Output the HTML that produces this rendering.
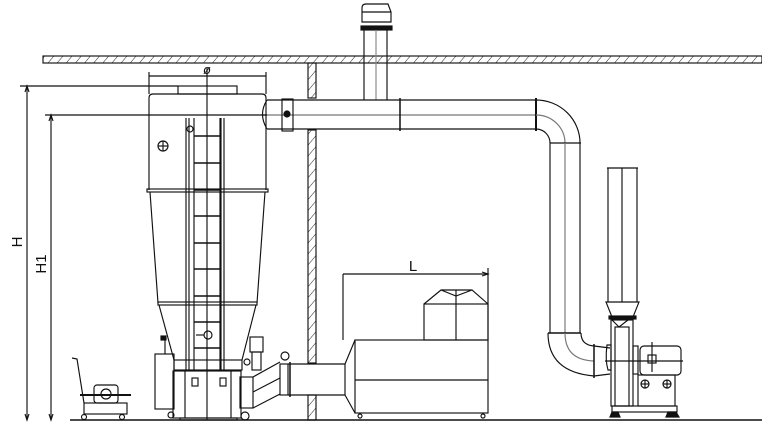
<!DOCTYPE html>
<html><head><meta charset="utf-8"><style>html,body{margin:0;padding:0;background:#fff}svg{display:block}</style></head>
<body>
<svg width="762" height="432" viewBox="0 0 762 432" xmlns="http://www.w3.org/2000/svg" font-family="Liberation Sans, sans-serif">
<defs>
<pattern id="h" width="7" height="7" patternUnits="userSpaceOnUse" patternTransform="rotate(40)"><line x1="0" y1="0" x2="0" y2="7" stroke="#222" stroke-width="1"/></pattern>
</defs>
<g fill="none" stroke="#111" stroke-width="1.15">
<rect x="43" y="56" width="719" height="7" fill="url(#h)"/>
<rect x="308" y="63" width="8" height="35" fill="url(#h)"/>
<rect x="308" y="130" width="8" height="233" fill="url(#h)"/>
<rect x="308" y="395" width="8" height="25" fill="url(#h)"/>
<line x1="70" y1="420" x2="762" y2="420" stroke-width="1.4"/>
<path d="M362 22 L362 8 Q362 4 366 4 L388 4 L391 12 L391 22 Z"/>
<line x1="362" y1="12" x2="391" y2="12"/>
<rect x="361" y="26" width="31" height="4" fill="#111"/>
<line x1="364" y1="30" x2="364" y2="100"/><line x1="387" y1="30" x2="387" y2="100"/>
<line x1="376" y1="30" x2="376" y2="100" stroke="#888"/>
<line x1="267" y1="100" x2="536" y2="100"/><line x1="267" y1="129" x2="536" y2="129"/>
<line x1="262" y1="115" x2="536" y2="115" stroke="#777"/>
<path d="M267 100 Q258 114 267 129"/>
<line x1="400" y1="98" x2="400" y2="131" stroke-width="1.5"/>
<line x1="536" y1="98" x2="536" y2="131" stroke-width="2"/>
<rect x="282" y="99" width="11" height="32"/>
<circle cx="287" cy="114" r="3" fill="#111"/>
<path d="M536 100 A44 43 0 0 1 580 143"/>
<path d="M536 115 A29 28 0 0 1 565 143" stroke="#777"/>
<path d="M536 129 A14 14 0 0 1 550 143"/>
<line x1="550" y1="143" x2="581" y2="143"/>
<line x1="550" y1="143" x2="550" y2="333"/><line x1="580" y1="143" x2="580" y2="333"/>
<line x1="565" y1="143" x2="565" y2="333" stroke="#777"/>
<line x1="548" y1="333" x2="581" y2="333" stroke-width="1.5"/>
<path d="M548 333 Q548 372 594 376"/>
<path d="M565 333 Q565 360 594 361" stroke="#777"/>
<path d="M581 333 Q581 345 594 346"/>
<line x1="594" y1="344" x2="594" y2="378" stroke-width="1.5"/>
<line x1="594" y1="346" x2="610" y2="348"/><line x1="594" y1="376" x2="610" y2="374"/>
<line x1="607" y1="168" x2="638" y2="168"/>
<line x1="608" y1="168" x2="608" y2="302"/><line x1="637" y1="168" x2="637" y2="302"/>
<line x1="622" y1="168" x2="622" y2="302"/>
<path d="M606 302 L639 302 L633 317 L612 317 Z"/>
<rect x="609" y="316" width="27" height="3" fill="#111"/>
<path d="M612 320 L619 327 L628 320"/>
<rect x="611" y="320" width="22" height="86"/>
<rect x="615" y="327" width="14" height="79"/>
<path d="M607 345 Q605 360 608 370 L611 370 L611 345 Z"/>
<rect x="633" y="346" width="5" height="28"/>
<rect x="640" y="346" width="41" height="29" rx="4"/>
<rect x="648" y="355" width="8" height="8"/>
<line x1="605" y1="361" x2="683" y2="361"/>
<line x1="652" y1="342" x2="652" y2="372"/>
<rect x="638" y="375" width="37" height="31"/>
<circle cx="645" cy="384" r="4"/><line x1="641" y1="384" x2="649" y2="384"/><line x1="645" y1="380" x2="645" y2="388"/>
<circle cx="667" cy="384" r="4"/><line x1="663" y1="384" x2="671" y2="384"/><line x1="667" y1="380" x2="667" y2="388"/>
<rect x="612" y="406" width="65" height="6"/>
<path d="M612 412 L618 412 L620 417 L610 417 Z M668 412 L676 412 L679 417 L666 417 Z" fill="#111"/>
<rect x="178" y="86" width="59" height="8"/>
<path d="M149 190 L149 98 Q149 94 153 94 L262 94 Q266 94 266 98 L266 190"/>
<rect x="147" y="189" width="121" height="3"/>
<circle cx="163" cy="146" r="5"/><line x1="158" y1="146" x2="168" y2="146"/><line x1="163" y1="141" x2="163" y2="151"/>
<line x1="150" y1="192" x2="158" y2="303"/><line x1="265" y1="192" x2="257" y2="303"/>
<rect x="158" y="302" width="99" height="3"/>
<line x1="159" y1="305" x2="174" y2="360"/><line x1="256" y1="305" x2="242" y2="360"/>
<rect x="174" y="360" width="68" height="10"/>
<rect x="173" y="371" width="68" height="47"/>
<line x1="185" y1="371" x2="185" y2="418"/><line x1="231" y1="371" x2="231" y2="418"/>
<rect x="192" y="378" width="6" height="8"/><rect x="220" y="378" width="6" height="8"/>
<rect x="180" y="418" width="57" height="2"/>
<rect x="155" y="354" width="19" height="55"/>
<circle cx="171" cy="415" r="3"/><circle cx="245" cy="416" r="4"/>
<line x1="165" y1="337" x2="165" y2="354"/>
<rect x="161" y="336" width="5" height="4" fill="#111"/>
<line x1="186" y1="118" x2="186" y2="370"/><line x1="189" y1="118" x2="189" y2="370"/>
<line x1="221" y1="118" x2="221" y2="370"/><line x1="224" y1="118" x2="224" y2="370"/>
<circle cx="190" cy="129" r="3"/>
<g stroke-width="1.6">
<line x1="194" y1="136" x2="220" y2="136"/><line x1="194" y1="163" x2="220" y2="163"/>
<line x1="194" y1="190" x2="220" y2="190"/><line x1="194" y1="216" x2="220" y2="216"/>
<line x1="194" y1="243" x2="220" y2="243"/><line x1="194" y1="269" x2="220" y2="269"/>
<line x1="194" y1="296" x2="220" y2="296"/><line x1="194" y1="322" x2="220" y2="322"/>
<line x1="194" y1="348" x2="220" y2="348"/>
</g>
<line x1="194" y1="118" x2="194" y2="370"/><line x1="220" y1="118" x2="220" y2="370"/>
<circle cx="208" cy="335" r="4"/><line x1="196" y1="335" x2="204" y2="335"/>
<line x1="207" y1="68" x2="207" y2="420"/>
<line x1="149" y1="72" x2="149" y2="94"/><line x1="266" y1="72" x2="266" y2="94"/>
<line x1="149" y1="76" x2="266" y2="76"/>
<line x1="20" y1="86" x2="178" y2="86"/>
<line x1="45" y1="115" x2="267" y2="115"/>
<line x1="27" y1="86" x2="27" y2="420"/>
<line x1="51" y1="115" x2="51" y2="420"/>
<path d="M25 92 L27 86 L29 92 M49 121 L51 115 L53 121 M25 414 L27 420 L29 414 M49 414 L51 420 L53 414"/>
<rect x="250" y="337" width="13" height="15"/>
<rect x="252" y="352" width="9" height="18"/>
<circle cx="247" cy="362" r="3"/>
<rect x="240" y="377" width="13" height="31"/>
<path d="M253 377 L280 362 M253 408 L280 394 M253 392 L280 378"/>
<rect x="280" y="364" width="8" height="31"/>
<line x1="290" y1="362" x2="290" y2="397" stroke-width="1.5"/>
<circle cx="285" cy="356" r="4"/>
<line x1="288" y1="364" x2="345" y2="364"/><line x1="288" y1="395" x2="345" y2="395"/>
<path d="M345 364 L345 395 L355 413 M345 364 L355 340"/>
<rect x="355" y="340" width="133" height="73"/>
<line x1="355" y1="380" x2="488" y2="380"/>
<rect x="424" y="304" width="64" height="36"/>
<line x1="456" y1="290" x2="456" y2="340"/>
<path d="M424 304 L441 290 L472 290 L488 304 M441 290 L456 296 L472 290"/>
<circle cx="483" cy="416" r="2"/><circle cx="360" cy="416" r="2"/>
<line x1="343" y1="274" x2="343" y2="340"/><line x1="488" y1="268" x2="488" y2="340"/>
<line x1="343" y1="274" x2="488" y2="274"/>
<path d="M482 272 L488 274 L482 276"/>
<path d="M72 358 L77 359 L84 403"/>
<rect x="84" y="403" width="43" height="11"/>
<rect x="94" y="385" width="24" height="18" rx="3"/>
<circle cx="106" cy="394" r="5"/>
<line x1="80" y1="395" x2="131" y2="395" stroke-width="2"/>
<circle cx="84" cy="417" r="2.5"/><circle cx="122" cy="417" r="2.5"/>
</g>
<g fill="#111" stroke="none">
<text x="207" y="74" text-anchor="middle" font-size="13" font-style="italic">ø</text>
<text x="413" y="271" text-anchor="middle" font-size="15">L</text>
<text transform="translate(22,242) rotate(-90)" text-anchor="middle" font-size="15">H</text>
<text transform="translate(46,264) rotate(-90)" text-anchor="middle" font-size="15">H1</text>
</g>
</svg>
</body></html>
